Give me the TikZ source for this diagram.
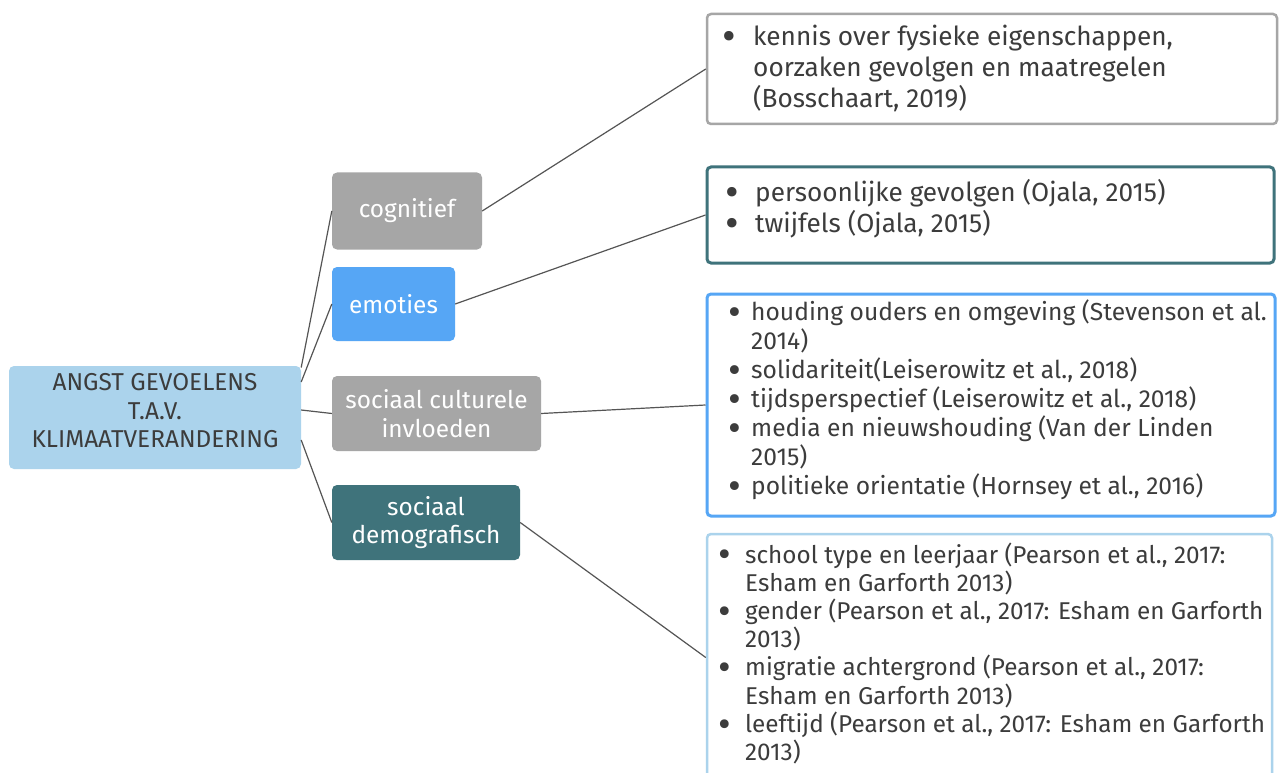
\documentclass[tikz,border=0pt]{standalone}
\usepackage{fontspec}
\setmainfont{Fira Sans}
\usetikzlibrary{calc}
\definecolor{greybox}{RGB}{166,166,166}
\definecolor{bluebox}{RGB}{86,166,245}
\definecolor{tealbox}{RGB}{63,115,123}
\definecolor{lightblue}{RGB}{171,211,236}
\definecolor{txt}{RGB}{60,60,60}
\definecolor{conn}{RGB}{85,85,85}
\newcommand\bul[1]{\strut\llap{\raisebox{-0.2em}{\scalebox{1.6}{\textbullet}}\hspace{#1}}}
\newcommand\fsz[2]{\fontsize{#1}{#2}\selectfont\lineskiplimit=-100pt\relax}
\begin{document}
\begin{tikzpicture}[x=1pt,y=-1pt,
  cat/.style={fill=greybox, rounded corners=5pt, text=white, align=center, inner sep=0pt, font=\fsz{24.4}{28.5}},
  leaf/.style={draw, line width=2.5pt, fill=white, rounded corners=4pt, inner sep=0pt},
  lbl/.style={anchor=north west, inner sep=0pt, align=left, text=txt},
  link/.style={draw=conn, line width=1.2pt}]
\useasboundingbox (0,0) rectangle (1283,773);
\clip (0,0) rectangle (1283,773);
\fill[white] (0,0) rectangle (1283,773);
% category nodes
\node[cat, fill=lightblue, text=txt, minimum width=292, minimum height=103] (root) at (155,417.5) {ANGST GEVOELENS\\T.A.V.\\KLIMAATVERANDERING\rule[-14pt]{0pt}{14pt}};
\node[cat, minimum width=150, minimum height=77] (cog) at (407,211) {cognitief};
\node[cat, fill=bluebox, minimum width=123, minimum height=74] (emo) at (393.5,304) {emoties};
\node[cat, minimum width=209, minimum height=75] (soc) at (436.5,413.5) {sociaal culturele\\invloeden};
\node[cat, fill=tealbox, minimum width=188, minimum height=75] (dem) at (426,522.5) {sociaal\\demografisch\rule[-5pt]{0pt}{5pt}};
% leaf boxes
\node[leaf, draw=greybox, minimum width=570, minimum height=110] (b1) at (992,69) {};
\node[leaf, draw=tealbox, line width=3pt, minimum width=567, minimum height=96] (b2) at (990.5,215) {};
\node[leaf, draw=bluebox, line width=3pt, minimum width=568, minimum height=222] (b3) at (991,405) {};
\node[leaf, draw=lightblue, minimum width=565, minimum height=247] (b4) at (989.5,657.5) {};
% connectors
\draw[link] ([yshift=50pt]root.east) -- (cog.west);
\draw[link] ([yshift=35.5pt]root.east) -- (emo.west);
\draw[link] ([yshift=7.5pt]root.east) -- (soc.west);
\draw[link] ([yshift=-22.5pt]root.east) -- (dem.west);
\draw[link] (cog.east) -- (b1.west);
\draw[link] (emo.east) -- (b2.west);
\draw[link] (soc.east) -- (b3.west);
\draw[link] (dem.east) -- (b4.west);
% texts
\node[lbl, font=\fsz{26.2}{31}] (t1) at (753,23.3) {\bul{17pt}kennis over fysieke eigenschappen,\\\strut oorzaken gevolgen en maatregelen\\\strut (Bosschaart, 2019)};
\node[lbl, font=\fsz{26.2}{31}] (t2) at (755,179.3) {\bul{16pt}persoonlijke gevolgen (Ojala, 2015)\\\bul{16pt}twijfels (Ojala, 2015)};
\node[lbl, font=\fsz{24.6}{29}] (t3) at (751,299.7) {\bul{10pt}houding ouders en omgeving (Stevenson et al.\\\strut 2014)\\\bul{10pt}solidariteit(Leiserowitz et al., 2018)\\\bul{10pt}tijdsperspectief (Leiserowitz et al., 2018)\\\bul{10pt}media en nieuwshouding (Van der Linden\\\strut 2015)\\\bul{10pt}politieke orientatie (Hornsey et al., 2016)};
\node[lbl, font=\fsz{24.3}{28.2}] (t4) at (745,542.3) {\bul{14pt}school type en leerjaar (Pearson et al., 2017:\\\strut Esham en Garforth 2013)\\\bul{14pt}gender (Pearson et al., 2017: Esham en Garforth\\\strut 2013)\\\bul{14pt}migratie achtergrond (Pearson et al., 2017:\\\strut Esham en Garforth 2013)\\\bul{14pt}leeftijd (Pearson et al., 2017: Esham en Garforth\\\strut 2013)};
\end{tikzpicture}
\end{document}
